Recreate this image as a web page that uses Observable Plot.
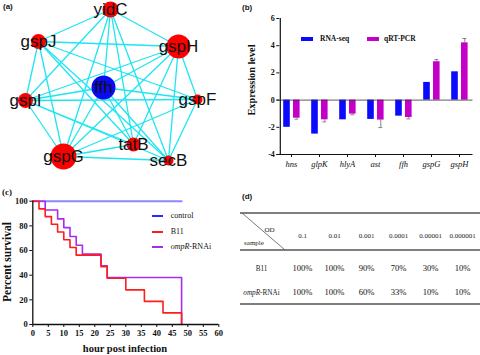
<!DOCTYPE html>
<html><head><meta charset="utf-8">
<script src="https://cdn.jsdelivr.net/npm/d3@7"></script>
<script src="https://cdn.jsdelivr.net/npm/@observablehq/plot@0.6"></script>
<style>
html,body{margin:0;padding:0;background:#fff;}
#fig{position:relative;width:480px;height:355px;overflow:hidden;background:#fff;}
.panel{position:absolute;}
.lbl{position:absolute;white-space:nowrap;line-height:1;color:#111;}
.sw{position:absolute;}
</style></head><body><div id="fig"></div>
<script>
const SERIF = '"Liberation Serif","Times New Roman",serif';
const SANS = '"Liberation Sans",Arial,sans-serif';

// ---------- (a) interaction network ----------
const nodeNames  = ["yidC","gspJ","gspH","ffh","gspI","gspF","tatB","gspG","secB"];
const nodeX      = [110, 38, 178, 103, 25, 197, 133, 63, 168];
const nodeY      = [9, 41, 46, 87, 100, 99, 144, 156, 160];
const nodeWeight = [64, 56, 144, 144, 56, 25, 49, 169, 25];
const nodeClass  = ["partner","partner","partner","query","partner","partner","partner","partner","partner"];
const edgeSource = ["yidC","yidC","yidC","yidC","yidC","yidC","yidC",
                    "gspJ","gspJ","gspJ","gspJ","gspJ","gspJ",
                    "gspH","gspH","gspH","gspH","gspH","gspH",
                    "ffh","ffh","ffh","ffh","ffh",
                    "gspI","gspI","gspI","gspI",
                    "gspF","gspF","tatB","gspG"];
const edgeTarget = ["gspJ","gspH","gspI","ffh","tatB","secB","gspG",
                    "gspH","gspI","gspG","tatB","secB","gspF",
                    "gspI","ffh","gspG","tatB","secB","gspF",
                    "gspI","gspF","gspG","tatB","secB",
                    "gspF","tatB","gspG","secB",
                    "gspG","secB","gspG","secB"];

// ---------- (b) expression ----------
const genes  = ["hns","glpK","hlyA","ast","ffh","gspG","gspH"];
const rnaSeq = [-2.0, -2.5, -1.45, -1.42, -1.18, 1.3, 2.08];
const qrtPcr = [-1.33, -1.45, -1.03, -1.47, -1.28, 2.82, 4.21];
const qrtErr = [0.07, 0.15, 0.05, 0.55, 0.1, 0.16, 0.32];
const seriesB = ["RNA-seq","qRT-PCR"];
const colorsB = ["#0a0aff","#c400c8"];

// ---------- (c) survival ----------
const hourTicks = [0,5,10,15,20,25,30,35,40,45,50,55,60];
const survTicks = [0,20,40,60,80,100];
const controlT = [0, 48];
const controlS = [100, 100];
const b11T = [0,2,4,6,8,10,12,14,22,24,30,36,42,48];
const b11S = [100,93.75,87.5,81.25,75,68.75,62.5,56.25,46.9,37.5,28.1,18.75,9.4,0];
const ompT = [0,4,8,10,12,14,16,22,24,48];
const ompS = [100,92.9,85.7,78.6,71.4,64.3,57.1,47.6,38.1,0];
const seriesC = ["control","B11","ompR-RNAi"];
const colorsC = ["#8a8aff","#ff1c1c","#a62cf0"];
const legendC = ["#2a2aff","#ff1c1c","#a62cf0"];

// ---------- (d) table ----------
const odLevels = ["0.1","0.01","0.001","0.0001","0.00001","0.000001"];
const sampleNames = ["B11","ompR-RNAi"];
const b11Pct  = [100,100,90,70,30,10];
const ompRPct = [100,100,60,33,10,10];

const fig = document.getElementById("fig");
function place(node, left, top) {
  const d = document.createElement("div");
  d.className = "panel"; d.style.left = left + "px"; d.style.top = top + "px";
  d.appendChild(node); fig.appendChild(d); return d;
}
function label(html, left, top, css) {
  const d = document.createElement("div");
  d.className = "lbl"; d.innerHTML = html;
  d.style.left = left + "px"; d.style.top = top + "px";
  Object.assign(d.style, css || {});
  fig.appendChild(d); return d;
}
function swatch(left, top, w, h, color) {
  const d = document.createElement("div");
  d.className = "sw";
  d.style.left = left + "px"; d.style.top = top + "px";
  d.style.width = w + "px"; d.style.height = h + "px";
  d.style.backgroundColor = color;
  fig.appendChild(d); return d;
}
function centered(html, cx, cy, css, rotate) {
  const d = label(html, cx, cy, css);
  d.style.transform = "translate(-50%,-50%)" + (rotate ? " rotate(-90deg)" : "");
  return d;
}

// (a)
const nodes = nodeNames.map((name, i) => ({name, x: nodeX[i], y: nodeY[i], w: nodeWeight[i], g: nodeClass[i]}));
const byName = new Map(nodes.map(d => [d.name, d]));
const edges = edgeSource.map((s, i) => ({a: byName.get(s), b: byName.get(edgeTarget[i])}));
const plotA = Plot.plot({
  width: 240, height: 170, margin: 0,
  style: {background: "transparent", overflow: "visible"},
  x: {domain: [0, 240], range: [0, 240], axis: null},
  y: {domain: [0, 170], range: [0, 170], axis: null},
  r: {type: "sqrt", domain: [0, 169], range: [0, 13]},
  color: {domain: ["partner", "query"], range: ["#ff0000", "#0b0bf0"]},
  marks: [
    Plot.link(edges, {x1: d => d.a.x, y1: d => d.a.y, x2: d => d.b.x, y2: d => d.b.y, stroke: "#1de6f2", strokeWidth: 1.3}),
    Plot.dot(nodes, {x: "x", y: "y", r: "w", fill: "g"}),
    Plot.text(nodes, {x: "x", y: "y", text: "name", fontSize: 17, fontFamily: SANS, fill: "#111"})
  ]
});
place(plotA, 0, 0);

// (b)
const rowsB = genes.map((gene, i) => ({gene, rna: rnaSeq[i], qrt: qrtPcr[i], err: qrtErr[i]}));
const errEnd = d => d.qrt + Math.sign(d.qrt) * d.err;
const plotB = Plot.plot({
  width: 240, height: 170, marginLeft: 36.5, marginRight: 7.5, marginTop: 18, marginBottom: 16,
  style: {fontFamily: SERIF, fontSize: "8px", fontWeight: "bold", background: "transparent", overflow: "visible", color: "#111"},
  x: {type: "band", domain: genes, padding: 0},
  y: {domain: [-4, 6]},
  marks: [
    Plot.ruleX(rowsB, {x: "gene", y1: "qrt", y2: errEnd, dx: 5.3, stroke: "#777", strokeWidth: 0.9}),
    Plot.tickY(rowsB, {x: "gene", y: errEnd, insetLeft: 17.3, insetRight: 6.7, stroke: "#777", strokeWidth: 0.9}),
    Plot.barY(rowsB, {x: "gene", y: "rna", fill: colorsB[0], insetLeft: 6.2, insetRight: 15.2}),
    Plot.barY(rowsB, {x: "gene", y: "qrt", fill: colorsB[1], insetLeft: 16, insetRight: 5.4}),
    Plot.ruleY([0], {stroke: "#333", strokeWidth: 0.8}),
    Plot.ruleY([-4], {stroke: "#111", strokeWidth: 1.2}),
    Plot.ruleX([genes[0]], {y1: -4, y2: 6, dx: -11.2, stroke: "#111", strokeWidth: 1.2}),
    Plot.axisY({ticks: [-4, -2, 0, 2, 4, 6], tickSize: 3, tickPadding: 2, tickFormat: d => String(d), dx: 2.8, label: null, fill: "#111"}),
    Plot.axisX({tickSize: 3, tickPadding: 3, label: null, fontStyle: "italic", fontWeight: "normal", fontSize: 8.5, fill: "#111", stroke: "#111"})
  ]
});
place(plotB, 240, 0);

// (c)
const toSteps = (T, S) => T.map((t, i) => ({t, s: S[i]}));
const plotC = Plot.plot({
  width: 240, height: 185, marginLeft: 32.3, marginRight: 21.7, marginTop: 30.7, marginBottom: 31,
  style: {fontFamily: SERIF, fontSize: "8.5px", fontWeight: "bold", background: "transparent", overflow: "visible", color: "#111"},
  x: {domain: [0, 60]},
  y: {domain: [0, 100]},
  marks: [
    Plot.line(toSteps(controlT, controlS), {x: "t", y: "s", curve: "step-after", stroke: colorsC[0], strokeWidth: 2}),
    Plot.line(toSteps(ompT, ompS), {x: "t", y: "s", curve: "step-after", stroke: colorsC[2], strokeWidth: 1.6}),
    Plot.line(toSteps(b11T, b11S), {x: "t", y: "s", curve: "step-after", stroke: colorsC[1], strokeWidth: 1.6}),
    Plot.ruleX([0], {stroke: "#111", strokeWidth: 1.3}),
    Plot.ruleY([0], {stroke: "#111", strokeWidth: 1.3}),
    Plot.axisX({ticks: hourTicks, tickSize: 3, tickPadding: 2, tickFormat: d => String(d), label: null}),
    Plot.axisY({ticks: survTicks, tickSize: 3, tickPadding: 2, tickFormat: d => String(d), label: null})
  ]
});
place(plotC, 0, 170);

// (d)
const cells = [];
sampleNames.forEach((s, j) => odLevels.forEach((od, i) => cells.push({sample: s, od, v: [b11Pct, ompRPct][j][i]})));
const tableLines = (index, scales, values, dims) => {
  const y0 = scales.y(sampleNames[0]), y1 = scales.y(sampleNames[sampleNames.length - 1]);
  const g = d3.create("svg:g").attr("stroke", "#555").attr("fill", "none");
  for (const yy of [y0 - 55, y0 - 18, y1 + 12]) {
    g.append("line").attr("x1", 0).attr("x2", dims.width).attr("y1", yy).attr("y2", yy).attr("stroke-width", 1.7);
  }
  g.append("line").attr("x1", 2).attr("y1", y0 - 55).attr("x2", 45).attr("y2", y0 - 18).attr("stroke-width", 0.8);
  return g.node();
};
const plotD = Plot.plot({
  width: 240, height: 130, marginLeft: 61, marginRight: 18, marginTop: 78, marginBottom: 28,
  style: {fontFamily: SERIF, background: "transparent", overflow: "visible", color: "#111"},
  x: {type: "point", domain: odLevels, padding: 0, axis: null},
  y: {type: "point", domain: sampleNames, padding: 0, axis: null},
  marks: [
    tableLines,
    Plot.text(odLevels, {x: d => d, frameAnchor: "top", dy: -35, fontSize: 7, textAnchor: "middle", fill: "#222"}),
    Plot.text(cells, {x: "od", y: "sample", text: d => d.v + "%", fontSize: 8.6, fill: "#111"}),
    Plot.text(sampleNames, {y: d => d, frameAnchor: "left", dx: -40, textAnchor: "middle", fontSize: 7.2, fill: "#222"}),
    Plot.text(["OD"], {frameAnchor: "top-left", dx: -32, dy: -41, textAnchor: "middle", fontSize: 7, fill: "#222"}),
    Plot.text(["sample"], {frameAnchor: "top-left", dx: -47.5, dy: -28, textAnchor: "middle", fontSize: 7, fill: "#222"})
  ]
});
plotD.querySelectorAll("text").forEach(t => {
  if (t.textContent === "ompR-RNAi") t.innerHTML = '<tspan font-style="italic">ompR</tspan>-RNAi';
});
place(plotD, 240, 190);

// panel letters
label("(a)", 3, 3, {fontFamily: SANS, fontWeight: "bold", fontSize: "8px"});
label("(b)", 242, 4, {fontFamily: SANS, fontWeight: "bold", fontSize: "8px"});
label("(c)", 2, 188, {fontFamily: SERIF, fontWeight: "bold", fontSize: "9px"});
label("(d)", 242, 193, {fontFamily: SANS, fontWeight: "bold", fontSize: "8px"});

// axis titles
centered("Expression level", 251.7, 80, {fontFamily: SERIF, fontWeight: "bold", fontSize: "10.3px"}, true);
centered("Percent survival", 7.5, 262, {fontFamily: SERIF, fontWeight: "bold", fontSize: "11.5px"}, true);
centered("hour post infection", 125, 349, {fontFamily: SERIF, fontWeight: "bold", fontSize: "10.5px"}, false);

// legend (b)
const legBX = [300.7, 367];
const legBText = [320, 384];
seriesB.forEach((s, i) => {
  swatch(legBX[i], 36.5, 12, 4, colorsB[i]);
  const d = label(s, legBText[i], 38.5, {fontFamily: SERIF, fontWeight: "bold", fontSize: "7.5px"});
  d.style.transform = "translate(0,-50%)";
});

// legend (c)
const legCY = [215.5, 231.5, 246.5];
seriesC.forEach((s, i) => {
  swatch(151.7, legCY[i] - 1, 11.6, 2, legendC[i]);
  const html = s === "ompR-RNAi" ? "<i>ompR</i>-RNAi" : s;
  const d = label(html, 170.7, legCY[i], {fontFamily: SERIF, fontSize: "8px"});
  d.style.transform = "translate(0,-50%)";
});
</script></body></html>
